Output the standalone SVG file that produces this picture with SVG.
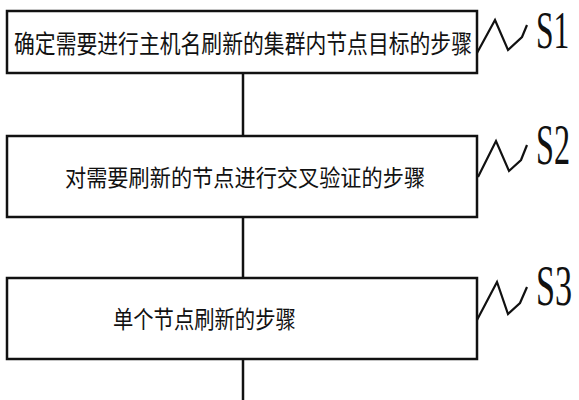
<svg xmlns="http://www.w3.org/2000/svg" width="579" height="400" viewBox="0 0 579 400">
<style>
.box{fill:#fff;stroke:#111;stroke-width:2.5}
.t{font-family:"Noto Sans CJK SC","Noto Sans CJK JP",sans-serif;fill:#111;dominant-baseline:central}
.lbl{font-family:"Liberation Serif","DejaVu Serif",serif;font-size:56px;fill:#111}
.sq{fill:none;stroke:#111;stroke-width:2.2;stroke-linejoin:miter}
.ln{stroke:#111;stroke-width:2.5;fill:none}
</style>
<rect width="579" height="400" fill="#fff"/>
<g id="connectors">
<line class="ln" x1="243" y1="73" x2="243" y2="135"/>
<line class="ln" x1="243" y1="217" x2="243" y2="278"/>
<line class="ln" x1="243" y1="359" x2="243" y2="400"/>
</g>
<g id="S1">
<rect class="box" x="7" y="11" width="470" height="62"/>
<text class="t" transform="translate(14,42) scale(0.833,1)" font-size="25">确定需要进行主机名刷新的集群内节点目标的步骤</text>
<polyline class="sq" points="477,53 495,20 508,50 522,37 527,25"/>
<text class="lbl" transform="translate(536,48) scale(0.596,1)" style="font-size:53px">S1</text>
</g>
<g id="S2">
<rect class="box" x="7" y="136" width="470" height="81"/>
<text class="t" transform="translate(65,176) scale(0.921,1)" font-size="23">对需要刷新的节点进行交叉验证的步骤</text>
<polyline class="sq" points="478,177 496,141 509,171 521,160 527,145"/>
<text class="lbl" transform="translate(536,164) scale(0.575,1)">S2</text>
</g>
<g id="S3">
<rect class="box" x="7" y="278" width="470" height="81"/>
<text class="t" transform="translate(113,317) scale(0.847,1)" font-size="24">单个节点刷新的步骤</text>
<polyline class="sq" points="477,320 497,282 508,314 520,303 527,287"/>
<text class="lbl" transform="translate(536,305) scale(0.61,1)">S3</text>
</g>
</svg>
